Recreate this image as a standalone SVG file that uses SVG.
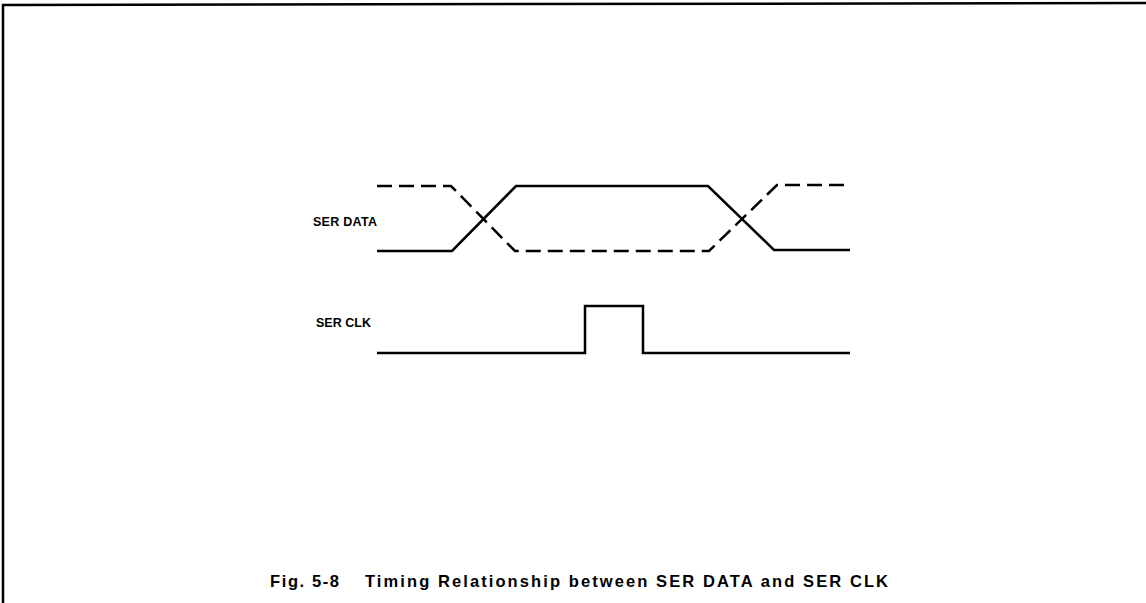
<svg xmlns="http://www.w3.org/2000/svg" width="1146" height="603" viewBox="0 0 1146 603">
<style>
.w{fill:none;stroke:#000;stroke-width:2.5;stroke-linejoin:miter}
.d{stroke-dasharray:15 7}
.l{font-family:"Liberation Sans",Arial,sans-serif;font-weight:bold;font-size:12.5px;fill:#000}
.c{font-family:"Liberation Sans",Arial,sans-serif;font-weight:bold;font-size:16.5px;fill:#000}
</style>
<rect width="1146" height="603" fill="#fff"/>
<g id="frame">
<path class="w" d="M3,603 V5 L1146,3" stroke-width="2"/>
</g>
<g id="label-data"><text class="l" x="313" y="226" textLength="64" lengthAdjust="spacing">SER DATA</text></g>
<g id="label-clk"><text class="l" x="316" y="327" textLength="55" lengthAdjust="spacing">SER CLK</text></g>
<g id="connectors">
<path id="data-solid" class="w" d="M377,251 H452 L516,186 H708 L774,250 H850"/>
<path id="data-dashed" class="w d" d="M377,186 H451 L515,251 H709 L777,185 H850"/>
<path id="clk" class="w" d="M377,353 H585 V306 H643 V353 H850"/>
</g>
<g id="caption">
<text class="c" x="270" y="587" textLength="69" lengthAdjust="spacing">Fig. 5-8</text>
<text class="c" x="365" y="587" textLength="523" lengthAdjust="spacing">Timing Relationship between SER DATA and SER CLK</text>
</g>
</svg>
